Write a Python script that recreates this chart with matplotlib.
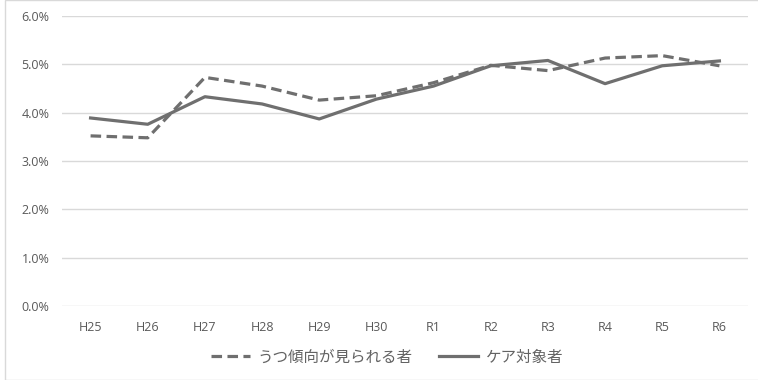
import matplotlib
matplotlib.use("Agg")
import matplotlib.pyplot as plt
from matplotlib.ticker import FuncFormatter
from matplotlib.patches import Rectangle

categories = ["H25", "H26", "H27", "H28", "H29", "H30", "R1", "R2", "R3", "R4", "R5", "R6"]
depression = [3.52, 3.48, 4.73, 4.55, 4.26, 4.35, 4.62, 4.98, 4.87, 5.13, 5.18, 4.97]
care = [3.89, 3.76, 4.33, 4.18, 3.87, 4.28, 4.55, 4.97, 5.08, 4.60, 4.97, 5.07]
series_names = ["うつ傾向が見られる者", "ケア対象者"]
yticks = [0, 1, 2, 3, 4, 5, 6]

plt.rcParams['font.family'] = ['Open Sans', 'Noto Sans CJK JP', 'DejaVu Sans']

W, H = 758, 380
fig = plt.figure(figsize=(W/100, H/100), dpi=100)
ax = fig.add_axes([62/W, 1-306/H, (748-62)/W, (306-16)/H])

x = list(range(len(categories)))
col = '#6f6f6f'
ax.plot(x, depression, color=col, lw=2.3, ls=(0, (3.3, 1.7)), label=series_names[0])
ax.plot(x, care, color=col, lw=2.3, ls='-', label=series_names[1])

ax.set_xlim(-0.5, len(categories)-0.5)
ax.set_ylim(0, 6)
ax.set_yticks(yticks)
ax.yaxis.set_major_formatter(FuncFormatter(lambda v, p: f"{v:.1f}%"))
ax.set_xticks(x)
ax.set_xticklabels(categories)
ax.grid(axis='y', color='#d9d9d9', lw=1)
ax.set_axisbelow(True)
for s in ax.spines.values():
    s.set_visible(False)
ax.tick_params(length=0, labelsize=9, colors='#595959')
ax.tick_params(axis='x', pad=11)
ax.tick_params(axis='y', pad=9)

leg = fig.legend(loc='center', bbox_to_anchor=(387/W, 1-357/H), ncol=2, frameon=False,
                 fontsize=11.2, handlelength=2.5, columnspacing=1.7, handletextpad=0.5)
for t in leg.get_texts():
    t.set_color('#636363')
    t.set_family(['Noto Sans CJK JP', 'DejaVu Sans'])

fig.patches.append(Rectangle((5/W, 0), 1, 1, transform=fig.transFigure, fill=False,
                             edgecolor='#d9d9d9', lw=1))
fig.savefig('out.png', dpi=100)
